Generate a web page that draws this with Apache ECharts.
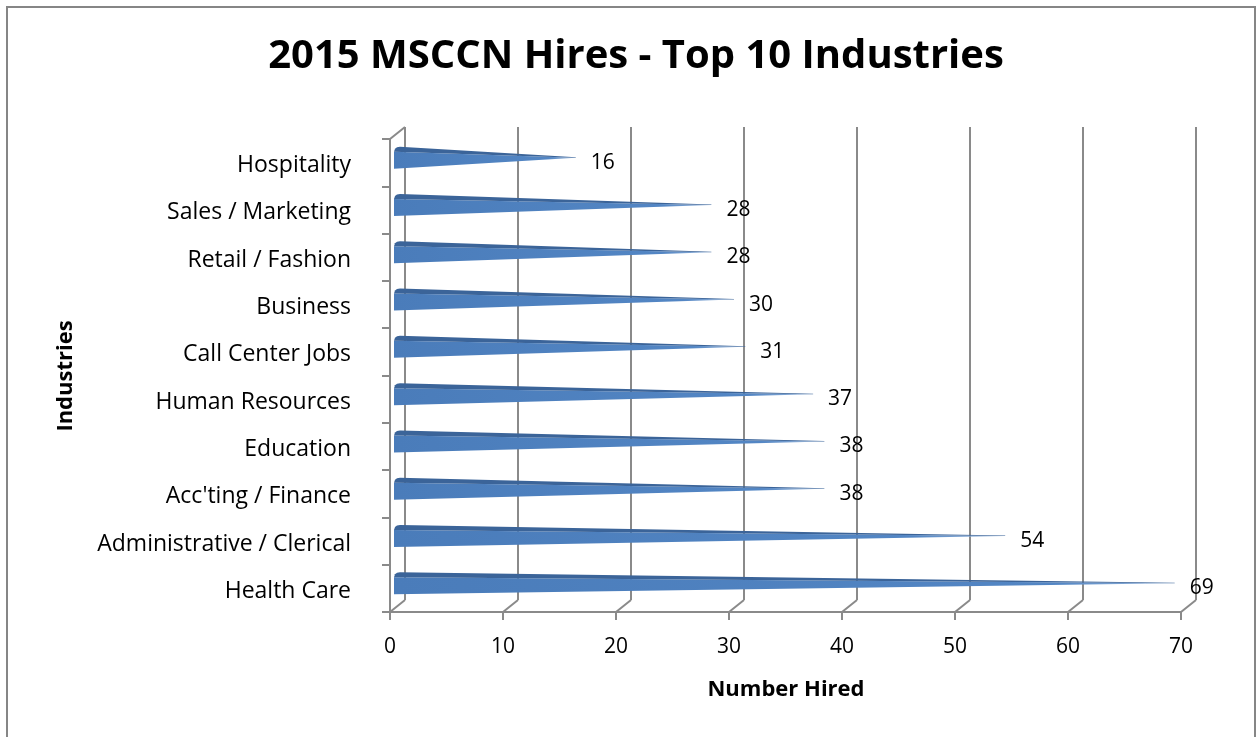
<!DOCTYPE html>
<html>
<head>
<meta charset="utf-8">
<script src="https://cdn.jsdelivr.net/npm/echarts@6/dist/echarts.min.js"></script>
<style>
html,body{margin:0;padding:0;background:#fff;}
#chart{width:1257px;height:737px;}
</style>
</head>
<body>
<div id="chart"></div>
<script>
const categories = ['Hospitality', 'Sales / Marketing', 'Retail / Fashion', 'Business', 'Call Center Jobs', 'Human Resources', 'Education', "Acc'ting / Finance", 'Administrative / Clerical', 'Health Care'];
const values = [16, 28, 28, 30, 31, 37, 38, 38, 54, 69];
const xTicks = [0, 10, 20, 30, 40, 50, 60, 70];
const titleText = '2015 MSCCN Hires - Top 10 Industries';
const xTitle = 'Number Hired';
const yTitle = 'Industries';

const FONT = '"Open Sans"';
const GRAY = '#8a8a8a';
const DX = 15, DY = 12;

const chart = echarts.init(document.getElementById('chart'));

function barItem(params, api) {
  const v = api.value(0), i = api.value(1);
  const p = api.coord([v, i]);
  const x0 = params.coordSys.x;
  const yc = p[1] - 5;
  const left = x0 + 4;
  const tip = p[0] + 5;
  return {
    type: 'group',
    children: [
      {
        type: 'polygon',
        shape: { points: [[left, yc - 6], [tip, yc], [left, yc + 11]] },
        style: {
          fill: new echarts.graphic.LinearGradient(0, 0, 1, 0, [
            { offset: 0, color: '#4a7cba' },
            { offset: 0.85, color: '#5386c4' },
            { offset: 1, color: '#9bb8dc' }
          ])
        }
      },
      {
        type: 'polygon',
        shape: { points: [[left, yc - 6], [left + 1, yc - 9], [left + 3, yc - 10.5], [left + 6, yc - 11], [tip, yc - 0.5], [tip, yc]] },
        style: { fill: '#3b6499' }
      },
      {
        type: 'text',
        style: {
          x: p[0] + 20, y: p[1],
          text: String(v),
          font: '21px ' + FONT,
          fill: '#000',
          align: 'left',
          verticalAlign: 'middle'
        }
      }
    ]
  };
}

function frameItem(params, api) {
  const v = api.value(0);
  const p = api.coord([v, 0]);
  const cs = params.coordSys;
  const bottom = cs.y + cs.height;
  const children = [{
    type: 'line',
    shape: { x1: p[0], y1: bottom, x2: p[0] + DX, y2: bottom - DY },
    style: { stroke: GRAY, lineWidth: 2 }
  }];
  if (v === 0) {
    children.push({
      type: 'line',
      shape: { x1: p[0], y1: cs.y, x2: p[0] + DX, y2: cs.y - DY },
      style: { stroke: GRAY, lineWidth: 2 }
    });
  }
  return { type: 'group', children: children };
}

const option = {
  backgroundColor: '#fff',
  animation: false,
  title: {
    text: titleText,
    left: 631,
    textAlign: 'center',
    top: 32,
    textStyle: { fontFamily: FONT, fontWeight: 'bold', fontSize: 40, color: '#000' }
  },
  grid: [
    { left: 390, right: 76, top: 139, bottom: 125 },
    { left: 405, right: 61, top: 127, bottom: 137 }
  ],
  xAxis: [
    {
      type: 'value', gridIndex: 0, min: 0, max: 70, interval: 10,
      axisLine: { show: true, lineStyle: { color: GRAY, width: 2 } },
      axisTick: { show: true, length: 8, lineStyle: { color: GRAY, width: 2 } },
      axisLabel: { fontFamily: FONT, fontSize: 21, color: '#000', margin: 25 },
      splitLine: { show: false }
    },
    {
      type: 'value', gridIndex: 1, min: 0, max: 70, interval: 10,
      axisLine: { show: false }, axisTick: { show: false }, axisLabel: { show: false },
      splitLine: { show: true, lineStyle: { color: GRAY, width: 2 } }
    }
  ],
  yAxis: [
    {
      type: 'category', gridIndex: 0, data: categories, inverse: true,
      axisLine: { show: true, lineStyle: { color: GRAY, width: 2 } },
      axisTick: { show: true, length: 8, lineStyle: { color: GRAY, width: 2 } },
      axisLabel: {
        margin: 39,
        formatter: function (v) { return '{c|' + v + '}'; },
        rich: { c: { fontFamily: FONT, fontSize: 23, color: '#000', padding: [6, 0, 0, 0] } }
      },
      splitLine: { show: false }
    },
    {
      type: 'value', gridIndex: 1, show: false, splitLine: { show: false }
    }
  ],
  series: [
    {
      type: 'custom',
      xAxisIndex: 0, yAxisIndex: 0,
      data: xTicks.map(v => [v, 0]),
      encode: { x: 0, y: 1 },
      renderItem: frameItem,
      clip: false,
      silent: true,
      z: 1
    },
    {
      type: 'custom',
      xAxisIndex: 0, yAxisIndex: 0,
      data: values.map((v, i) => [v, i]),
      encode: { x: 0, y: 1 },
      renderItem: barItem,
      clip: false,
      z: 3
    }
  ],
  graphic: [
    {
      type: 'rect', z: 100, silent: true,
      shape: { x: 7, y: 7, width: 1248, height: 780 },
      style: { fill: 'none', stroke: '#868686', lineWidth: 2 }
    },
    {
      type: 'text', x: 786, y: 690,
      style: { text: xTitle, font: 'bold 22px ' + FONT, fill: '#000', align: 'center', verticalAlign: 'middle' }
    },
    {
      type: 'text', x: 66, y: 376, rotation: Math.PI / 2,
      style: { text: yTitle, font: 'bold 22px ' + FONT, fill: '#000', align: 'center', verticalAlign: 'middle' }
    }
  ]
};

chart.setOption(option);
</script>
</body>
</html>
